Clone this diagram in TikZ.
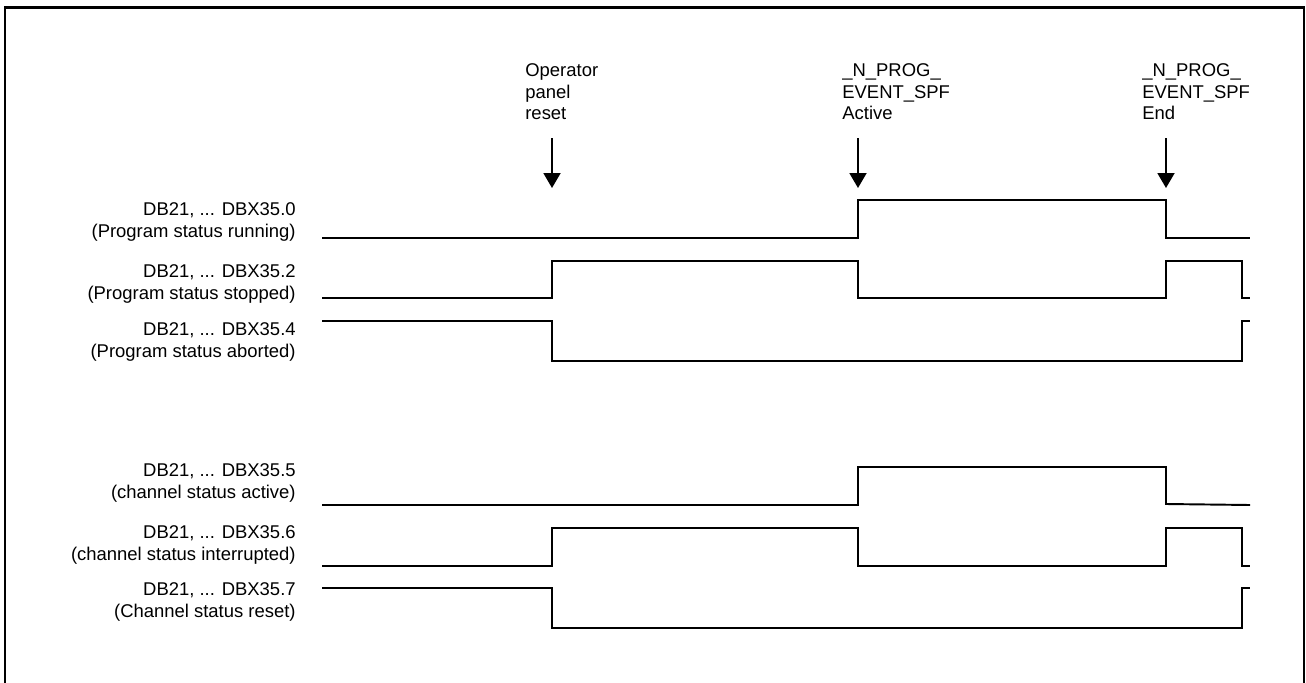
\documentclass[tikz,border=0pt]{standalone}
\usepackage{fontspec}
\setmainfont{Liberation Sans}
\usetikzlibrary{arrows.meta,positioning}

\begin{document}
\begin{tikzpicture}[x=0.02cm,y=-0.02cm,
  font=\fontsize{10.5}{12.4}\selectfont,
  sig/.style={align=right,anchor=east,inner sep=0pt},
  evt/.style={align=left,anchor=north west,inner sep=0pt},
  wave/.style={line width=1.1pt,line join=miter},
  trig/.style={line width=1.1pt,-{Triangle[length=0.30cm,width=0.34cm]}},
  box/.style={line width=1.3pt}]

\useasboundingbox (0,0) rectangle (1306,683);

% ================= FRAME =================
\draw[box] (5,684) -- (5,7.5) -- (1304,7.5) -- (1304,684);

% ================= EVENTS (top) =================
\node[evt] (opreset) at (525,63) {Operator\\panel\\reset};
\node[evt] (spfact) at (842,63) {\_N\_PROG\_\\EVENT\_SPF\\Active};
\node[evt] (spfend) at (1142,63) {\_N\_PROG\_\\EVENT\_SPF\\End};

\coordinate (t1top) at (552,138);  \coordinate (t1) at (552,188);
\coordinate (t2top) at (858,138);  \coordinate (t2) at (858,188);
\coordinate (t3top) at (1166,138); \coordinate (t3) at (1166,188);
\draw[trig] (t1top) -- (t1);
\draw[trig] (t2top) -- (t2);
\draw[trig] (t3top) -- (t3);

% ================= SIGNAL NAMES =================
\node[sig] (prun)  at (296,222) {DB21, ... DBX35.0\\(Program status running)};
\node[sig] (pstop) at (296,284) {DB21, ... DBX35.2\\(Program status stopped)};
\node[sig] (pabrt) at (296,342) {DB21, ... DBX35.4\\(Program status aborted)};
\node[sig] (cact)  at (296,483) {DB21, ... DBX35.5\\(channel status active)};
\node[sig] (cintr) at (296,545) {DB21, ... DBX35.6\\(channel status interrupted)};
\node[sig] (crst)  at (296,602) {DB21, ... DBX35.7\\(Channel status reset)};

% ================= PROGRAM STATUS =================
\draw[wave] (322,238) -- (858,238) -- (858,200) -- (1166,200) -- (1166,238) -- (1250,238);
\draw[wave] (322,298) -- (552,298) -- (552,261) -- (858,261) -- (858,298) -- (1166,298)
   -- (1166,261) -- (1242,261) -- (1242,298) -- (1250,298);
\draw[wave] (322,321) -- (552,321) -- (552,361) -- (1242,361) -- (1242,321) -- (1250,321);

% ================= CHANNEL STATUS =================
\draw[wave] (322,505) -- (858,505) -- (858,467) -- (1166,467) -- (1166,504) -- (1250,505);
\draw[wave] (322,566) -- (552,566) -- (552,528) -- (858,528) -- (858,566) -- (1166,566)
   -- (1166,528) -- (1242,528) -- (1242,566) -- (1250,566);
\draw[wave] (322,588) -- (552,588) -- (552,628) -- (1242,628) -- (1242,588) -- (1250,588);
\end{tikzpicture}
\end{document}
